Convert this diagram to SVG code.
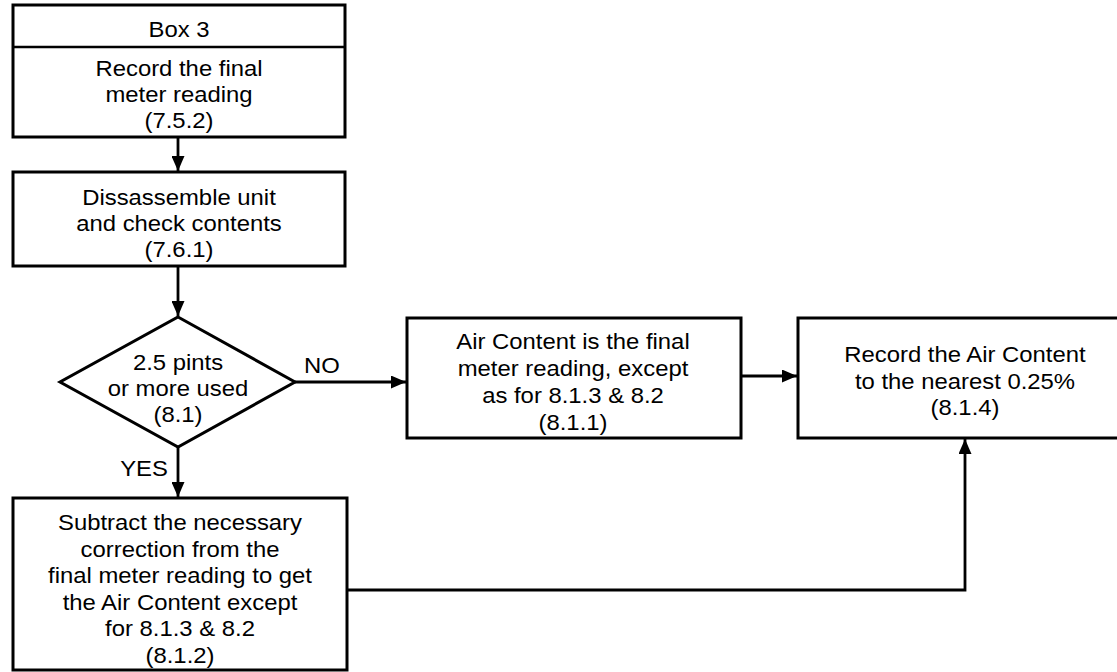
<svg xmlns="http://www.w3.org/2000/svg" width="1117" height="672" viewBox="0 0 1117 672">
<style>
.box{fill:#fff;stroke:#000;stroke-width:3}
.t{font-family:"Liberation Sans",Arial,sans-serif;font-size:21.5px;fill:#000;text-anchor:middle}
.c{fill:none;stroke:#000;stroke-width:2.8}
</style>
<defs>
<marker id="ah" markerUnits="userSpaceOnUse" markerWidth="15" markerHeight="13" refX="15" refY="6.5" orient="auto">
<path d="M0,0 L15,6.5 L0,13 z" fill="#000"/>
</marker>
</defs>
<rect width="1117" height="672" fill="#fff"/>
<g id="connectors">
<line class="c" x1="178" y1="137" x2="178" y2="171" marker-end="url(#ah)"/>
<line class="c" x1="178" y1="266" x2="178" y2="316" marker-end="url(#ah)"/>
<line class="c" x1="295" y1="382" x2="406" y2="382" marker-end="url(#ah)"/>
<line class="c" x1="178" y1="447" x2="178" y2="497" marker-end="url(#ah)"/>
<line class="c" x1="741" y1="376" x2="797" y2="376" marker-end="url(#ah)"/>
<polyline class="c" points="347,590 965,590 965,439" marker-end="url(#ah)"/>
<g transform="translate(322,0) scale(1.11,1)"><text class="t" x="0" y="373">NO</text></g>
<g transform="translate(144,0) scale(1.11,1)"><text class="t" x="0" y="476">YES</text></g>
</g>
<g id="box3">
<rect class="box" x="13" y="5" width="332" height="132"/>
<line x1="13" y1="47" x2="345" y2="47" stroke="#000" stroke-width="2.5"/>
<g transform="translate(179,0) scale(1.11,1)">
<text class="t" x="0" y="37">Box 3</text>
<text class="t" x="0" y="76">Record the final</text>
<text class="t" x="0" y="102">meter reading</text>
<text class="t" x="0" y="128">(7.5.2)</text>
</g>
</g>
<g id="disassemble">
<rect class="box" x="13" y="172" width="332" height="94"/>
<g transform="translate(179,0) scale(1.11,1)">
<text class="t" x="0" y="205">Dissassemble unit</text>
<text class="t" x="0" y="231">and check contents</text>
<text class="t" x="0" y="257">(7.6.1)</text>
</g>
</g>
<g id="decision">
<polygon class="box" points="178,317 295,382 178,447 60,382"/>
<g transform="translate(178,0) scale(1.11,1)">
<text class="t" x="0" y="370">2.5 pints</text>
<text class="t" x="0" y="396">or more used</text>
<text class="t" x="0" y="422">(8.1)</text>
</g>
</g>
<g id="no-box">
<rect class="box" x="407" y="318" width="334" height="120"/>
<g transform="translate(573,0) scale(1.11,1)">
<text class="t" x="0" y="349">Air Content is the final</text>
<text class="t" x="0" y="376">meter reading, except</text>
<text class="t" x="0" y="403">as for 8.1.3 &amp; 8.2</text>
<text class="t" x="0" y="430">(8.1.1)</text>
</g>
</g>
<g id="record-box">
<rect class="box" x="798" y="318" width="330" height="120"/>
<g transform="translate(965,0) scale(1.11,1)">
<text class="t" x="0" y="362">Record the Air Content</text>
<text class="t" x="0" y="389">to the nearest 0.25%</text>
<text class="t" x="0" y="415">(8.1.4)</text>
</g>
</g>
<g id="yes-box">
<rect class="box" x="13" y="498" width="334" height="172"/>
<g transform="translate(180,0) scale(1.11,1)">
<text class="t" x="0" y="530">Subtract the necessary</text>
<text class="t" x="0" y="557">correction from the</text>
<text class="t" x="0" y="583">final meter reading to get</text>
<text class="t" x="0" y="610">the Air Content except</text>
<text class="t" x="0" y="636">for 8.1.3 &amp; 8.2</text>
<text class="t" x="0" y="663">(8.1.2)</text>
</g>
</g>
</svg>
